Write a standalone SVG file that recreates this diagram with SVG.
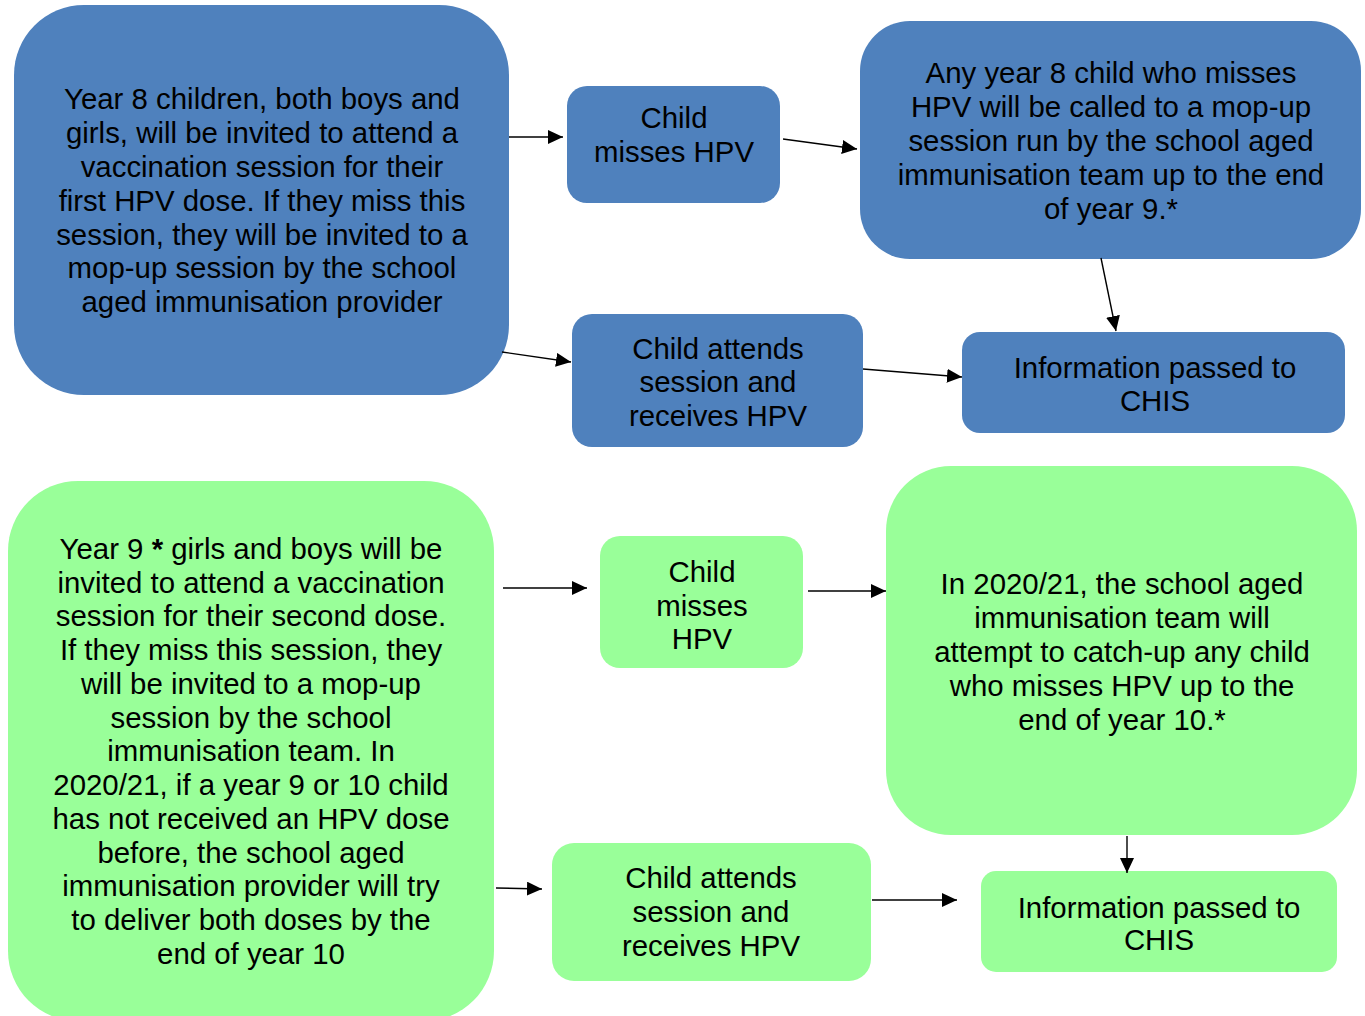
<svg xmlns="http://www.w3.org/2000/svg" width="1365" height="1016" viewBox="0 0 1365 1016">
<defs>
<marker id="ah" markerUnits="userSpaceOnUse" markerWidth="16" markerHeight="14" refX="15" refY="7" orient="auto">
<path d="M0,0 L15,7 L0,14 z" fill="#000"/>
</marker>
</defs>
<style>
.blue{fill:#4F81BD;}
.green{fill:#99FF99;}
text{font-family:"Liberation Sans",Arial,sans-serif;font-size:29.4px;fill:#000;text-anchor:middle;}
.c line{stroke:#000;stroke-width:1.4;marker-end:url(#ah);}
</style>
<rect width="1365" height="1016" fill="#fff"/>
<g id="nodeA">
<rect class="blue" x="14" y="5" width="495" height="390" rx="70"/>
<text x="262" y="109">Year 8 children, both boys and</text>
<text x="262" y="143">girls, will be invited to attend a</text>
<text x="262" y="177">vaccination session for their</text>
<text x="262" y="211">first HPV dose. If they miss this</text>
<text x="262" y="245">session, they will be invited to a</text>
<text x="262" y="278">mop-up session by the school</text>
<text x="262" y="312">aged immunisation provider</text>
</g>
<g id="nodeB">
<rect class="blue" x="567" y="86" width="213" height="117" rx="20"/>
<text x="674" y="128">Child</text>
<text x="674" y="162">misses HPV</text>
</g>
<g id="nodeC">
<rect class="blue" x="572" y="314" width="291" height="133" rx="20"/>
<text x="718" y="359">Child attends</text>
<text x="718" y="392">session and</text>
<text x="718" y="426">receives HPV</text>
</g>
<g id="nodeD">
<rect class="blue" x="860" y="21" width="501" height="238" rx="50"/>
<text x="1111" y="83">Any year 8 child who misses</text>
<text x="1111" y="117">HPV will be called to a mop-up</text>
<text x="1111" y="151">session run by the school aged</text>
<text x="1111" y="185">immunisation team up to the end</text>
<text x="1111" y="219">of year 9.*</text>
</g>
<g id="nodeE">
<rect class="blue" x="962" y="332" width="383" height="101" rx="18"/>
<text x="1155" y="378">Information passed to</text>
<text x="1155" y="411">CHIS</text>
</g>
<g id="nodeF">
<rect class="green" x="8" y="481" width="486" height="540" rx="70"/>
<text x="251" y="559">Year 9 <tspan font-weight="bold">*</tspan> girls and boys will be</text>
<text x="251" y="593">invited to attend a vaccination</text>
<text x="251" y="626">session for their second dose.</text>
<text x="251" y="660">If they miss this session, they</text>
<text x="251" y="694">will be invited to a mop-up</text>
<text x="251" y="728">session by the school</text>
<text x="251" y="761">immunisation team. In</text>
<text x="251" y="795">2020/21, if a year 9 or 10 child</text>
<text x="251" y="829">has not received an HPV dose</text>
<text x="251" y="863">before, the school aged</text>
<text x="251" y="896">immunisation provider will try</text>
<text x="251" y="930">to deliver both doses by the</text>
<text x="251" y="964">end of year 10</text>
</g>
<g id="nodeG">
<rect class="green" x="600" y="536" width="203" height="132" rx="20"/>
<text x="702" y="582">Child</text>
<text x="702" y="616">misses</text>
<text x="702" y="649">HPV</text>
</g>
<g id="nodeH">
<rect class="green" x="552" y="843" width="319" height="138" rx="22"/>
<text x="711" y="888">Child attends</text>
<text x="711" y="922">session and</text>
<text x="711" y="956">receives HPV</text>
</g>
<g id="nodeI">
<rect class="green" x="886" y="466" width="471" height="369" rx="65"/>
<text x="1122" y="594">In 2020/21, the school aged</text>
<text x="1122" y="628">immunisation team will</text>
<text x="1122" y="662">attempt to catch-up any child</text>
<text x="1122" y="696">who misses HPV up to the</text>
<text x="1122" y="730">end of year 10.*</text>
</g>
<g id="nodeJ">
<rect class="green" x="981" y="871" width="356" height="101" rx="15"/>
<text x="1159" y="918">Information passed to</text>
<text x="1159" y="950">CHIS</text>
</g>
<g id="connectors" class="c">
<line x1="509" y1="137" x2="563" y2="137"/>
<line x1="783" y1="139" x2="857" y2="149"/>
<line x1="502" y1="352" x2="571" y2="362"/>
<line x1="863" y1="369" x2="962" y2="377"/>
<line x1="1101" y1="258" x2="1116" y2="331"/>
<line x1="503" y1="588" x2="587" y2="588"/>
<line x1="808" y1="591" x2="886" y2="591"/>
<line x1="496" y1="888" x2="542" y2="889"/>
<line x1="872" y1="900" x2="957" y2="900"/>
<line x1="1127" y1="836" x2="1127" y2="873"/>
</g>
</svg>
